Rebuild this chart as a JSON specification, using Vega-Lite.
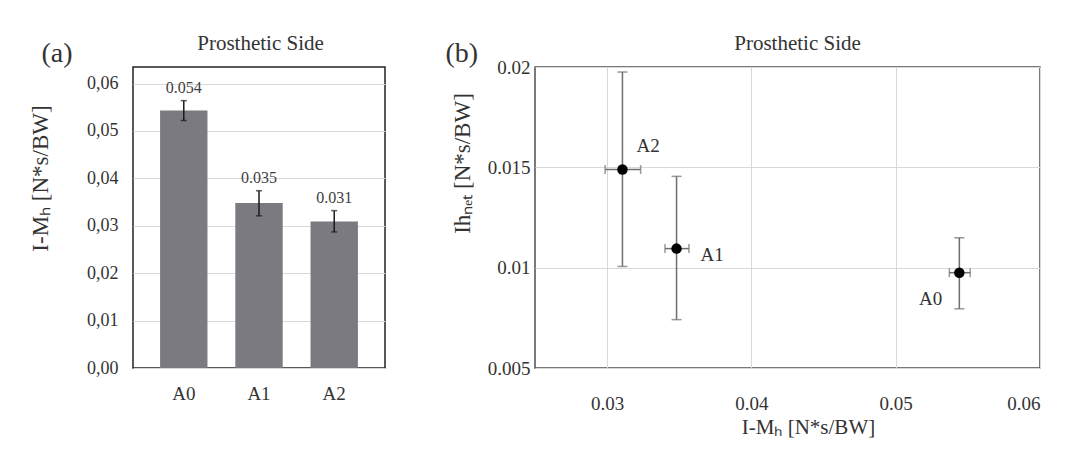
{
  "$schema": "https://vega.github.io/schema/vega-lite/v6.json",
  "background": "white",
  "padding": {"left": 28, "top": 31, "right": 0, "bottom": 0},
  "spacing": 58,
  "config": {
    "font": "Liberation Serif",
    "view": {"stroke": "#333333", "strokeWidth": 1.5},
    "axis": {
      "labelFont": "Liberation Serif",
      "titleFont": "Liberation Serif",
      "labelColor": "#333333",
      "titleColor": "#333333",
      "titleFontWeight": "normal",
      "ticks": false,
      "domain": false,
      "gridColor": "#d9d9d9",
      "gridWidth": 1
    },
    "text": {"font": "Liberation Serif"}
  },
  "datasets": {
    "bars": [
      {"cond": "A0", "mean": 0.0543, "lo": 0.0522, "hi": 0.0564},
      {"cond": "A1", "mean": 0.0348, "lo": 0.0321, "hi": 0.0374},
      {"cond": "A2", "mean": 0.0309, "lo": 0.0287, "hi": 0.0332}
    ],
    "scatter": [
      {"cond": "A0", "x": 0.05441, "xlo": 0.05372, "xhi": 0.05516, "y": 0.00975, "ylo": 0.00795, "yhi": 0.01149},
      {"cond": "A1", "x": 0.03481, "xlo": 0.03401, "xhi": 0.03567, "y": 0.01095, "ylo": 0.00741, "yhi": 0.01455},
      {"cond": "A2", "x": 0.03106, "xlo": 0.02986, "xhi": 0.03232, "y": 0.01489, "ylo": 0.01006, "yhi": 0.01975}
    ]
  },
  "hconcat": [
    {
      "width": 252,
      "height": 301,
      "data": {"name": "bars"},
      "view": {"stroke": "#222222", "strokeWidth": 1.5},
      "resolve": {"axis": {"x": "independent", "y": "independent"}},
      "layer": [
        {
          "mark": {"type": "bar", "color": "#7b7a80"},
          "encoding": {
            "x": {
              "field": "cond", "type": "nominal",
              "scale": {"paddingInner": 0.37, "paddingOuter": 0.36},
              "axis": {"orient": "bottom", "title": null, "labelAngle": 0, "labelFontSize": 19, "labelPadding": 31, "labelBaseline": "alphabetic", "grid": false}
            },
            "y": {
              "field": "mean", "type": "quantitative",
              "scale": {"domain": [0, 0.0635], "nice": false, "zero": true},
              "axis": {
                "orient": "left",
                "values": [0, 0.01, 0.02, 0.03, 0.04, 0.05, 0.06],
                "labelExpr": "replace(format(datum.value, '.2f'), '.', ',')",
                "labelFontSize": 18, "labelPadding": 15, "labelBaseline": "middle",
                "grid": true,
                "title": "I-Mₕ [N*s/BW]",
                "titleFontSize": 23, "titleX": -86, "titleY": 111, "titleAngle": -90,
                "titleAlign": "center", "titleBaseline": "alphabetic"
              }
            }
          }
        },
        {
          "mark": {"type": "rule", "color": "#1a1a1a", "strokeWidth": 1.5},
          "encoding": {
            "x": {"field": "cond", "type": "nominal", "axis": null},
            "y": {"field": "lo", "type": "quantitative", "axis": null},
            "y2": {"field": "hi"}
          }
        },
        {
          "mark": {"type": "tick", "orient": "horizontal", "size": 6, "thickness": 1.5, "color": "#1a1a1a"},
          "encoding": {
            "x": {"field": "cond", "type": "nominal", "axis": null},
            "y": {"field": "lo", "type": "quantitative", "axis": null}
          }
        },
        {
          "mark": {"type": "tick", "orient": "horizontal", "size": 6, "thickness": 1.5, "color": "#1a1a1a"},
          "encoding": {
            "x": {"field": "cond", "type": "nominal", "axis": null},
            "y": {"field": "hi", "type": "quantitative", "axis": null}
          }
        },
        {
          "mark": {"type": "text", "dy": -8, "baseline": "alphabetic", "fontSize": 16, "color": "#404040"},
          "encoding": {
            "x": {
              "field": "cond", "type": "nominal",
              "axis": {"orient": "top", "labels": false, "grid": false, "title": "Prosthetic Side", "titleFontSize": 21, "titleX": 127, "titleY": -18, "titleAlign": "center", "titleBaseline": "alphabetic", "titleAngle": 0}
            },
            "y": {
              "field": "hi", "type": "quantitative",
              "axis": {"orient": "right", "labels": false, "grid": false, "title": "(a)", "titleFontSize": 28, "titleX": -344, "titleY": -6, "titleAlign": "left", "titleBaseline": "alphabetic", "titleAngle": 0}
            },
            "text": {"field": "mean", "type": "quantitative", "format": ".3f"}
          }
        }
      ]
    },
    {
      "width": 505,
      "height": 301,
      "data": {"name": "scatter"},
      "view": {"stroke": "#4d4d4d", "strokeWidth": 1.5},
      "resolve": {"axis": {"x": "independent", "y": "independent"}},
      "layer": [
        {
          "mark": {"type": "rule", "color": "#6e6e6e", "strokeWidth": 1.5},
          "encoding": {
            "x": {
              "field": "x", "type": "quantitative",
              "scale": {"domain": [0.025, 0.06], "nice": false, "zero": false},
              "axis": {
                "orient": "bottom", "values": [0.03, 0.04, 0.05, 0.06], "format": "~g",
                "labelFontSize": 19, "labelPadding": 41, "labelBaseline": "alphabetic",
                "grid": true,
                "title": "I-Mₕ [N*s/BW]", "titleFontSize": 21, "titleX": 273, "titleY": 65,
                "titleAlign": "center", "titleBaseline": "alphabetic", "titleAngle": 0
              }
            },
            "y": {
              "field": "ylo", "type": "quantitative",
              "scale": {"domain": [0.005, 0.02], "nice": false, "zero": false},
              "axis": {
                "orient": "left", "values": [0.005, 0.01, 0.015, 0.02], "format": "~g",
                "labelFontSize": 19, "labelPadding": 5, "labelBaseline": "middle",
                "grid": true,
                "title": "Ihₙₑₜ [N*s/BW]", "titleFontSize": 23, "titleX": -66, "titleY": 96,
                "titleAngle": -90, "titleAlign": "center", "titleBaseline": "alphabetic"
              }
            },
            "y2": {"field": "yhi"}
          }
        },
        {
          "mark": {"type": "tick", "orient": "horizontal", "size": 10, "thickness": 1.5, "color": "#6e6e6e"},
          "encoding": {
            "x": {"field": "x", "type": "quantitative", "axis": null},
            "y": {"field": "ylo", "type": "quantitative", "axis": null}
          }
        },
        {
          "mark": {"type": "tick", "orient": "horizontal", "size": 10, "thickness": 1.5, "color": "#6e6e6e"},
          "encoding": {
            "x": {"field": "x", "type": "quantitative", "axis": null},
            "y": {"field": "yhi", "type": "quantitative", "axis": null}
          }
        },
        {
          "mark": {"type": "rule", "color": "#6e6e6e", "strokeWidth": 1.5},
          "encoding": {
            "x": {"field": "xlo", "type": "quantitative", "axis": null},
            "x2": {"field": "xhi"},
            "y": {"field": "y", "type": "quantitative", "axis": null}
          }
        },
        {
          "mark": {"type": "tick", "orient": "vertical", "size": 9, "thickness": 1.5, "color": "#6e6e6e"},
          "encoding": {
            "x": {"field": "xlo", "type": "quantitative", "axis": null},
            "y": {"field": "y", "type": "quantitative", "axis": null}
          }
        },
        {
          "mark": {"type": "tick", "orient": "vertical", "size": 9, "thickness": 1.5, "color": "#6e6e6e"},
          "encoding": {
            "x": {"field": "xhi", "type": "quantitative", "axis": null},
            "y": {"field": "y", "type": "quantitative", "axis": null}
          }
        },
        {
          "mark": {"type": "point", "filled": true, "shape": "circle", "size": 110, "color": "#000000", "opacity": 1},
          "encoding": {
            "x": {"field": "x", "type": "quantitative", "axis": null},
            "y": {"field": "y", "type": "quantitative", "axis": null}
          }
        },
        {
          "transform": [{"filter": "datum.cond == 'A2'"}],
          "mark": {"type": "text", "align": "left", "baseline": "alphabetic", "dx": 14, "dy": -18, "fontSize": 19, "color": "#333333"},
          "encoding": {
            "x": {
              "field": "x", "type": "quantitative",
              "axis": {"orient": "top", "labels": false, "grid": false, "title": "Prosthetic Side", "titleFontSize": 21, "titleX": 262, "titleY": -18, "titleAlign": "center", "titleBaseline": "alphabetic", "titleAngle": 0}
            },
            "y": {
              "field": "y", "type": "quantitative",
              "axis": {"orient": "right", "labels": false, "grid": false, "title": "(b)", "titleFontSize": 28, "titleX": -595, "titleY": -6, "titleAlign": "left", "titleBaseline": "alphabetic", "titleAngle": 0}
            },
            "text": {"field": "cond"}
          }
        },
        {
          "transform": [{"filter": "datum.cond == 'A1'"}],
          "mark": {"type": "text", "align": "left", "baseline": "alphabetic", "dx": 24, "dy": 12, "fontSize": 19, "color": "#333333"},
          "encoding": {
            "x": {"field": "x", "type": "quantitative", "axis": null},
            "y": {"field": "y", "type": "quantitative", "axis": null},
            "text": {"field": "cond"}
          }
        },
        {
          "transform": [{"filter": "datum.cond == 'A0'"}],
          "mark": {"type": "text", "align": "right", "baseline": "alphabetic", "dx": -17, "dy": 32, "fontSize": 19, "color": "#333333"},
          "encoding": {
            "x": {"field": "x", "type": "quantitative", "axis": null},
            "y": {"field": "y", "type": "quantitative", "axis": null},
            "text": {"field": "cond"}
          }
        }
      ]
    }
  ]
}
